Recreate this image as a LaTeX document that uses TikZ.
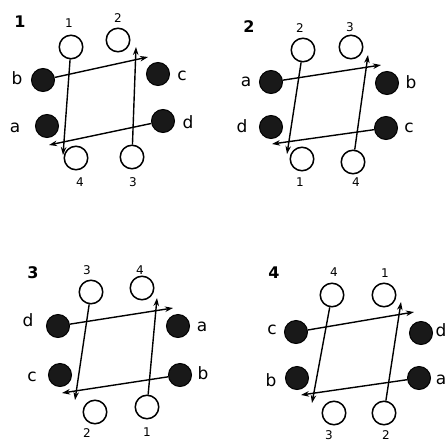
\documentclass[tikz,border=0pt]{standalone}
\usepackage{fontspec}
\setmainfont{DejaVu Sans}
\usetikzlibrary{arrows.meta}
\begin{document}
\begin{tikzpicture}[x=1pt,y=-1pt,
  open/.style={circle,draw=black,line width=1.5pt,fill=white,minimum size=23.5pt,inner sep=0pt},
  full/.style={circle,draw=black,line width=1pt,fill=black!90,minimum size=23pt,inner sep=0pt},
  num/.style={font=\fontsize{12}{12}\selectfont,inner sep=0pt},
  let/.style={font=\fontsize{17}{17}\selectfont,inner sep=0pt},
  title/.style={font=\fontsize{16}{16}\selectfont\bfseries,inner sep=0pt},
  arr/.style={line width=1.4pt,-{Stealth[length=8pt,width=5.5pt,inset=2.5pt]}}]
\useasboundingbox (0,0) rectangle (447,442);
% ---------- Panel 1 ----------
\node[title] (t1) at (20,22) {1};
\node[open] (p1o1) at (71,47) {}; \node[num] (p1l1) at (69,23) {1};
\node[open] (p1o2) at (118,40) {}; \node[num] (p1l2) at (118,18) {2};
\node[full] (p1b) at (43,80) {}; \node[let] (p1lb) at (17,78) {b};
\node[full] (p1c) at (158,74) {}; \node[let] (p1lc) at (182,76) {c};
\node[full] (p1a) at (47,126) {}; \node[let] (p1la) at (15,128) {a};
\node[full] (p1d) at (163,121) {}; \node[let] (p1ld) at (188,122) {d};
\node[open] (p1o4) at (76,158) {}; \node[num] (p1l4) at (80,182) {4};
\node[open] (p1o3) at (132,157) {}; \node[num] (p1l3) at (133,182) {3};
\coordinate (p1e1) at (63,155);
\coordinate (p1e2) at (136,47);
\coordinate (p1e3) at (148,57);
\coordinate (p1e4) at (49,145);
\draw[arr] (p1o1) -- (p1e1);
\draw[arr] (p1o3) -- (p1e2);
\draw[arr] (p1b) -- (p1e3);
\draw[arr] (p1d) -- (p1e4);
% ---------- Panel 2 ----------
\node[title] (t2) at (249,27) {2};
\node[open] (p2o2) at (303,50) {}; \node[num] (p2l2) at (300,28) {2};
\node[open] (p2o3) at (351,47) {}; \node[num] (p2l3) at (350,27) {3};
\node[full] (p2a) at (271,82) {}; \node[let] (p2la) at (246,82) {a};
\node[full] (p2b) at (387,83) {}; \node[let] (p2lb) at (411,82) {b};
\node[full] (p2d) at (271,127) {}; \node[let] (p2ld) at (242,126) {d};
\node[full] (p2c) at (386,128) {}; \node[let] (p2lc) at (409,128) {c};
\node[open] (p2o1) at (302,159) {}; \node[num] (p2l1) at (300,182) {1};
\node[open] (p2o4) at (353,162) {}; \node[num] (p2l4) at (356,182) {4};
\coordinate (p2e1) at (287,154);
\coordinate (p2e2) at (368,55);
\coordinate (p2e3) at (381,65);
\coordinate (p2e4) at (272,144);
\draw[arr] (p2o2) -- (p2e1);
\draw[arr] (p2o4) -- (p2e2);
\draw[arr] (p2a) -- (p2e3);
\draw[arr] (p2c) -- (p2e4);
% ---------- Panel 3 ----------
\node[title] (t3) at (33,273) {3};
\node[open] (p3o3) at (91,292) {}; \node[num] (p3l3) at (87,270) {3};
\node[open] (p3o4) at (142,288) {}; \node[num] (p3l4) at (140,270) {4};
\node[full] (p3d) at (58,326) {}; \node[let] (p3ld) at (28,320) {d};
\node[full] (p3a) at (178,326) {}; \node[let] (p3la) at (202,327) {a};
\node[full] (p3c) at (60,375) {}; \node[let] (p3lc) at (32,377) {c};
\node[full] (p3b) at (180,375) {}; \node[let] (p3lb) at (203,373) {b};
\node[open] (p3o2) at (95,412) {}; \node[num] (p3l2) at (87,433) {2};
\node[open] (p3o1) at (147,407) {}; \node[num] (p3l1) at (147,432) {1};
\coordinate (p3e1) at (75,400);
\coordinate (p3e2) at (157,298);
\coordinate (p3e3) at (173,308);
\coordinate (p3e4) at (62,393);
\draw[arr] (p3o3) -- (p3e1);
\draw[arr] (p3o1) -- (p3e2);
\draw[arr] (p3d) -- (p3e3);
\draw[arr] (p3b) -- (p3e4);
% ---------- Panel 4 ----------
\node[title] (t4) at (274,273) {4};
\node[open] (p4o4) at (332,295) {}; \node[num] (p4l4) at (334,272) {4};
\node[open] (p4o1) at (384,295) {}; \node[num] (p4l1) at (385,273) {1};
\node[full] (p4c) at (296,332) {}; \node[let] (p4lc) at (272,330) {c};
\node[full] (p4d) at (421,333) {}; \node[let] (p4ld) at (441,330) {d};
\node[full] (p4b) at (297,378) {}; \node[let] (p4lb) at (271,380) {b};
\node[full] (p4a) at (419,378) {}; \node[let] (p4la) at (441,380) {a};
\node[open] (p4o3) at (334,413) {}; \node[num] (p4l3) at (329,435) {3};
\node[open] (p4o2) at (384,413) {}; \node[num] (p4l2) at (386,435) {2};
\coordinate (p4e1) at (312,403);
\coordinate (p4e2) at (401,302);
\coordinate (p4e3) at (414,312);
\coordinate (p4e4) at (301,395);
\draw[arr] (p4o4) -- (p4e1);
\draw[arr] (p4o2) -- (p4e2);
\draw[arr] (p4c) -- (p4e3);
\draw[arr] (p4a) -- (p4e4);
\end{tikzpicture}
\end{document}
